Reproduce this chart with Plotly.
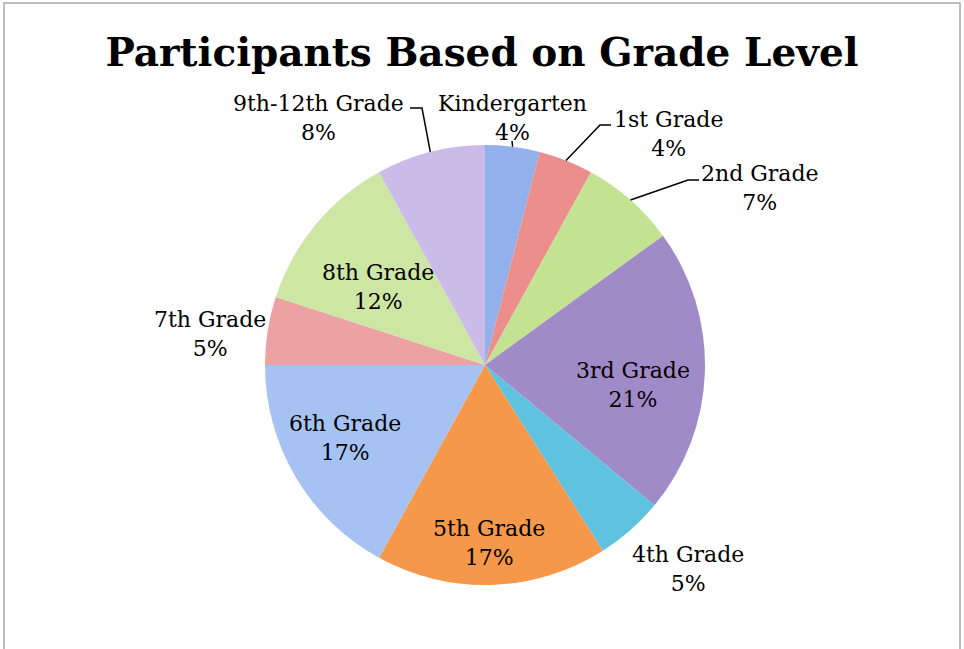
import math
import plotly.graph_objects as go

# data
grades = ["Kindergarten", "1st Grade", "2nd Grade", "3rd Grade", "4th Grade",
          "5th Grade", "6th Grade", "7th Grade", "8th Grade", "9th-12th Grade"]
shares = [4, 4, 7, 21, 5, 17, 17, 5, 12, 8]
colors = ["#93b1ec", "#ec8f8c", "#c3e392", "#a08ac8", "#5fc2df",
          "#f5984a", "#a6c2f3", "#eca2a2", "#cde6a4", "#cbbbe8"]

W, H = 964, 649
L, R, T, B = 265, 259, 145, 64          # plot area = the pie box (440 x 440)
PW, PH = W - L - R, H - T - B
FONT = "DejaVu Serif"


def to_paper(x, y):
    return (x - L) / PW, (H - B - y) / PH


# label centres (pixels) and the elbows of the leader lines
label_pos = {
    "9th-12th Grade": (318, 118), "Kindergarten": (512, 118),
    "1st Grade": (668, 134), "2nd Grade": (760, 188),
    "3rd Grade": (633, 385), "4th Grade": (688, 569),
    "5th Grade": (489, 543), "6th Grade": (345, 438),
    "7th Grade": (210, 334), "8th Grade": (378, 287),
}
elbows = {
    "9th-12th Grade": [(422, 108), (410, 108)],
    "Kindergarten": [(512, 141)],
    "1st Grade": [(600, 125), (611, 125)],
    "2nd Grade": [(688, 180), (699, 180)],
}

total = sum(shares)
fig = go.Figure(go.Pie(
    labels=grades, values=shares, sort=False, direction="clockwise",
    marker=dict(colors=colors, line=dict(width=0)),
    textinfo="none", hole=0, showlegend=False,
))

annotations = []
shapes = []
cum = 0
for g, v in zip(grades, shares):
    mid = (cum + v / 2) / total * 2 * math.pi
    cum += v
    px, py = to_paper(*label_pos[g])
    annotations.append(dict(
        x=px, y=py, xref="paper", yref="paper", showarrow=False,
        text=f"{g}<br>{round(v / total * 100)}%",
        font=dict(family=FONT, size=22, color="black"),
        xanchor="center", yanchor="middle", align="center",
    ))
    if g in elbows:
        pts = [(0.5 + 0.5 * math.sin(mid), 0.5 + 0.5 * math.cos(mid))]
        pts += [to_paper(*p) for p in elbows[g]]
        path = "M " + " L ".join(f"{x:.4f},{y:.4f}" for x, y in pts)
        shapes.append(dict(type="path", path=path, xref="paper", yref="paper",
                           line=dict(color="black", width=1.5)))

# outer chart frame
x0, y0 = to_paper(4, 3)
x1, y1 = to_paper(960, 660)
shapes.append(dict(type="rect", xref="paper", yref="paper", x0=x0, y0=y1, x1=x1, y1=y0,
                   line=dict(color="#a6a6a6", width=1.5)))

fig.update_layout(
    width=W, height=H,
    margin=dict(l=L, r=R, t=T, b=B),
    paper_bgcolor="white", plot_bgcolor="white",
    title=dict(text="<b>Participants Based on Grade Level</b>",
               x=0.5, xanchor="center", y=1 - 52 / H, yanchor="middle",
               font=dict(family=FONT, size=39, color="black")),
    annotations=annotations, shapes=shapes,
)

fig.write_html("out.html", config={"displayModeBar": False},
               post_script="document.body.style.margin='0';")
